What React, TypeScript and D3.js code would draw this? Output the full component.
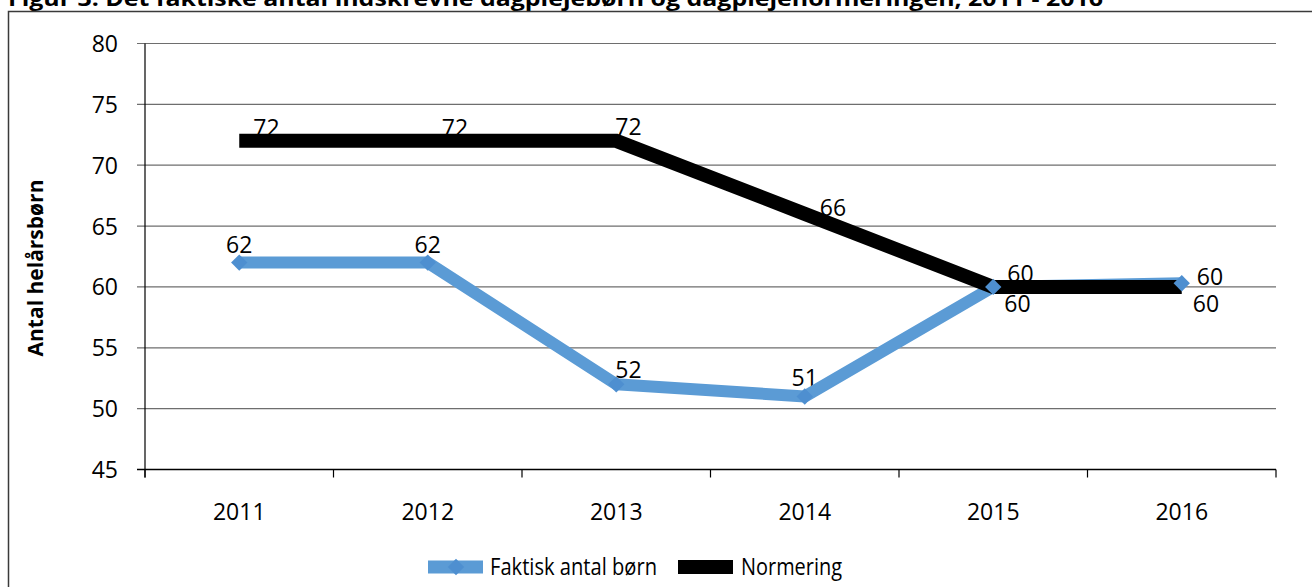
import React from 'react';
import * as d3 from 'd3';

const years = ['2011', '2012', '2013', '2014', '2015', '2016'];
const faktisk = [62, 62, 52, 51, 60, 60.3];
const normering = [72, 72, 72, 66, 60, 60];
const faktiskLabels = ['62', '62', '52', '51', '60', '60'];
const normeringLabels = ['72', '72', '72', '66', '60', '60'];
// where each data label sits relative to its point
const faktiskPlace = ['n', 'n', 'nr', 'n', 'se', 'e'];
const normeringPlace = ['ne', 'ne', 'nr', 'e', 'ne', 'se'];
const yTicks = [45, 50, 55, 60, 65, 70, 75, 80];

const W = 1312;
const H = 587;
const FONT = '"Open Sans", "DejaVu Sans", sans-serif';
const BLUE = '#5b9bd5';
const NUM = 23;

const placeOffset = (p: string) => {
  switch (p) {
    case 'n': return { dx: 0, dy: -10, anchor: 'middle' };
    case 'nr': return { dx: -1, dy: -6, anchor: 'start' };
    case 'ne': return { dx: 14, dy: -5, anchor: 'start' };
    case 'e': return { dx: 15, dy: 2, anchor: 'start' };
    case 'se': return { dx: 11, dy: 25, anchor: 'start' };
    default: return { dx: 0, dy: 0, anchor: 'middle' };
  }
};

export default function App() {
  const x = d3.scaleBand().domain(years).range([145, 1276]);
  const y = d3.scaleLinear().domain([45, 80]).range([469.5, 43.5]);
  const cx = (d: string) => (x(d) as number) + x.bandwidth() / 2;

  const line = d3.line<number>()
    .x((_, i) => cx(years[i]))
    .y(d => y(d));

  const boundaries = years.map(d => x(d) as number).concat([x.range()[1]]);
  const diamond = d3.symbol().type(d3.symbolDiamond2).size(170)();

  const labels = (vals: number[], texts: string[], place: string[]) =>
    vals.map((v, i) => {
      const o = placeOffset(place[i]);
      return (
        <text key={i} x={cx(years[i]) + o.dx} y={y(v) + o.dy} textAnchor={o.anchor}
          fontSize={NUM} fontFamily={FONT} fill="#000">{texts[i]}</text>
      );
    });

  return (
    <div style={{ position: 'fixed', left: 0, top: 0, background: '#fff' }}>
      <svg width={W} height={H} style={{ display: 'block' }}>
        <rect x={0} y={0} width={W} height={H} fill="#fff" />
        {/* cut-off caption above the frame */}
        <text x={8} y={6} fontSize={21} fontWeight="bold" fontFamily={FONT}
          textLength={1095} lengthAdjust="spacingAndGlyphs">
          Figur 3: Det faktiske antal indskrevne dagplejebørn og dagplejenormeringen, 2011 - 2016
        </text>
        {/* chart frame */}
        <rect x={8.5} y={11.5} width={W + 20} height={H + 20} fill="none" stroke="#3a3a3a" strokeWidth={1.5} />

        {/* gridlines */}
        {yTicks.map(t => (
          <line key={t} x1={137} x2={x.range()[1]} y1={y(t)} y2={y(t)}
            stroke={t === 45 ? '#000' : '#6e6e6e'} strokeWidth={t === 45 ? 1.3 : 1.2} />
        ))}
        {/* y axis */}
        <line x1={145} x2={145} y1={y(80)} y2={y(45) + 8} stroke="#000" strokeWidth={1.2} />
        {yTicks.map(t => (
          <text key={t} x={118} y={y(t) + 8.5} textAnchor="end" fontSize={NUM} fontFamily={FONT}>{t}</text>
        ))}
        {/* x ticks at category boundaries */}
        {boundaries.map((b, i) => (
          <line key={i} x1={b} x2={b} y1={y(45)} y2={y(45) + 8} stroke="#000" strokeWidth={1.2} />
        ))}
        {years.map(d => (
          <text key={d} x={cx(d)} y={520} textAnchor="middle" fontSize={NUM} fontFamily={FONT}>{d}</text>
        ))}

        <text transform={`translate(43, ${268}) rotate(-90)`} textAnchor="middle" fontSize={21}
          fontWeight="bold" fontFamily={FONT}>Antal helårsbørn</text>

        {/* data labels (sit under the lines) */}
        {labels(faktisk, faktiskLabels, faktiskPlace)}
        {labels(normering, normeringLabels, normeringPlace)}

        {/* series */}
        <path d={line(faktisk) || ''} fill="none" stroke={BLUE} strokeWidth={12} strokeLinejoin="round" />
        <path d={line(normering) || ''} fill="none" stroke="#000" strokeWidth={14} strokeLinejoin="miter" />
        {faktisk.map((v, i) => (
          <path key={i} d={diamond || ''} transform={`translate(${cx(years[i])},${y(v)})`} fill="#4e8fd0" />
        ))}

        {/* legend */}
        <g>
          <line x1={428} x2={483} y1={567} y2={567} stroke={BLUE} strokeWidth={13} />
          <path d={diamond || ''} transform="translate(456,567)" fill="#4e8fd0" />
          <text x={490} y={575} fontSize={NUM} fontFamily={FONT} textLength={167}
            lengthAdjust="spacingAndGlyphs">Faktisk antal børn</text>
          <line x1={678} x2={733} y1={567} y2={567} stroke="#000" strokeWidth={14} />
          <text x={741} y={575} fontSize={NUM} fontFamily={FONT} textLength={101}
            lengthAdjust="spacingAndGlyphs">Normering</text>
        </g>
      </svg>
    </div>
  );
}
